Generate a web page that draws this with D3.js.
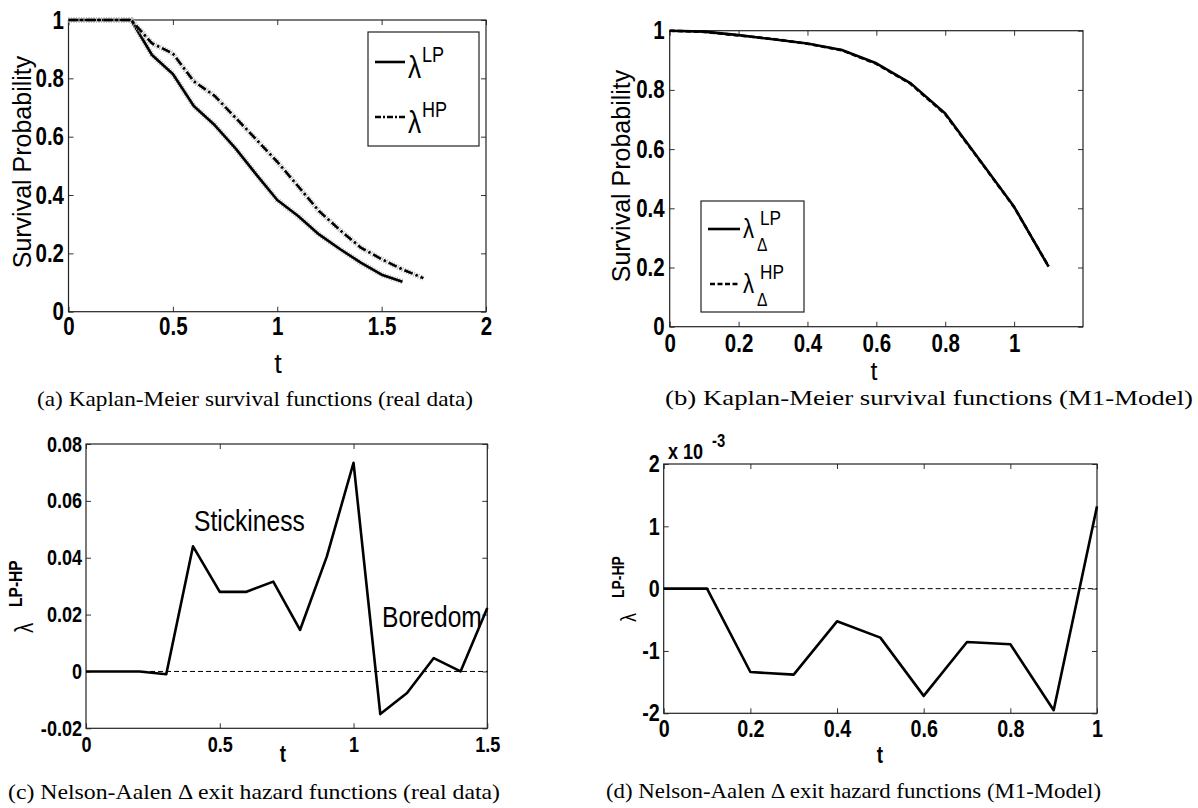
<!DOCTYPE html>
<html>
<head>
<meta charset="utf-8">
<script src="https://cdn.jsdelivr.net/npm/d3@7"></script>
<style>
body { margin: 0; background: #fff; }
.tick text { font-family: "Liberation Sans", Arial, sans-serif; font-weight: bold; fill: #000; }
.tick line { stroke: #333; }
.sans { font-family: "Liberation Sans", Arial, sans-serif; fill: #000; }
.cap { font-family: "Liberation Serif", "DejaVu Serif", serif; font-size: 21px; fill: #000; }
</style>
</head>
<body>
<svg id="fig" width="1198" height="808"></svg>
<script>
// (a) Kaplan-Meier, real data
const tA = [0, 0.1, 0.2, 0.3, 0.4, 0.5, 0.6, 0.7, 0.8, 0.9, 1.0, 1.1, 1.2, 1.3, 1.4, 1.5, 1.6];
const lpA = [1, 1, 1, 1, 0.88, 0.815, 0.705, 0.64, 0.56, 0.47, 0.383, 0.328, 0.265, 0.215, 0.168, 0.127, 0.103];
const tAhp = [0, 0.1, 0.2, 0.3, 0.4, 0.5, 0.6, 0.7, 0.8, 0.9, 1.0, 1.1, 1.2, 1.3, 1.4, 1.5, 1.6, 1.7];
const hpA = [1, 1, 1, 1, 0.92, 0.885, 0.79, 0.74, 0.665, 0.59, 0.514, 0.43, 0.345, 0.28, 0.22, 0.18, 0.145, 0.115];

// (b) Kaplan-Meier, M1 model
const tB = [0, 0.1, 0.2, 0.3, 0.4, 0.5, 0.6, 0.7, 0.8, 0.9, 1.0, 1.1];
const lpB = [1, 0.997, 0.985, 0.971, 0.957, 0.935, 0.89, 0.822, 0.72, 0.563, 0.405, 0.203];
const hpB = [1, 0.996, 0.984, 0.972, 0.956, 0.934, 0.888, 0.82, 0.718, 0.562, 0.404, 0.204];

// (c) Nelson-Aalen difference, real data
const tC = [0, 0.1, 0.2, 0.3, 0.4, 0.5, 0.6, 0.7, 0.8, 0.9, 1.0, 1.1, 1.2, 1.3, 1.4, 1.5];
const diffC = [0, 0, 0, -0.001, 0.044, 0.028, 0.028, 0.0316, 0.0146, 0.0404, 0.0734, -0.015, -0.0076, 0.0047, 0, 0.0223];

// (d) Nelson-Aalen difference, M1 model (x 10^-3)
const tD = [0, 0.1, 0.2, 0.3, 0.4, 0.5, 0.6, 0.7, 0.8, 0.9, 1.0];
const diffD = [0, 0, -1.337, -1.38, -0.524, -0.786, -1.72, -0.856, -0.893, -1.95, 1.32];

// ticks
const ticksAx = [0, 0.5, 1, 1.5, 2];
const ticksSurv = [0, 0.2, 0.4, 0.6, 0.8, 1];
const ticksBx = [0, 0.2, 0.4, 0.6, 0.8, 1];
const ticksCx = [0, 0.5, 1, 1.5];
const ticksCy = [-0.02, 0, 0.02, 0.04, 0.06, 0.08];
const ticksDx = [0, 0.2, 0.4, 0.6, 0.8, 1];
const ticksDy = [-2, -1, 0, 1, 2];

const svg = d3.select("#fig");
svg.append("rect").attr("width", 1198).attr("height", 808).attr("fill", "#fff");

const fmt = d => String(+d.toFixed(3));
const NARROW = 0.82;

function panel(p) {
  const g = svg.append("g");
  const x = d3.scaleLinear().domain(p.xd).range([p.l, p.r]);
  const y = d3.scaleLinear().domain(p.yd).range([p.b, p.t]);

  g.append("g").attr("transform", `translate(0,${p.b})`)
    .call(d3.axisBottom(x).tickValues(p.xt).tickSizeInner(-5).tickSizeOuter(0).tickPadding(p.xpad).tickFormat(fmt));
  g.append("g").attr("transform", `translate(0,${p.t})`)
    .call(d3.axisTop(x).tickValues(p.xt).tickSizeInner(-5).tickSizeOuter(0).tickFormat(""));
  g.append("g").attr("transform", `translate(${p.l},0)`)
    .call(d3.axisLeft(y).tickValues(p.yt).tickSizeInner(-5).tickSizeOuter(0).tickPadding(p.ypad).tickFormat(fmt));
  g.append("g").attr("transform", `translate(${p.r},0)`)
    .call(d3.axisRight(y).tickValues(p.yt).tickSizeInner(-5).tickSizeOuter(0).tickFormat(""));
  g.selectAll(".domain").remove();
  g.selectAll(".tick text").style("font-size", p.fs + "px").classed("narrow", true);

  g.append("rect")
    .attr("x", p.l).attr("y", p.t)
    .attr("width", p.r - p.l).attr("height", p.b - p.t)
    .attr("fill", "none").attr("stroke", "#222").attr("stroke-width", 1.2);
  return { g, x, y };
}

function curve(pp, ts, vs, dash, halo) {
  const line = d3.line().x((d, i) => pp.x(ts[i])).y(d => pp.y(d));
  if (halo) {
    pp.g.append("path").datum(vs).attr("d", line)
      .attr("fill", "none").attr("stroke", "#b8b8b8").attr("stroke-width", 5.5)
      .attr("stroke-dasharray", "1,1.5");
  }
  pp.g.append("path").datum(vs).attr("d", line)
    .attr("fill", "none").attr("stroke", "#000").attr("stroke-width", 2.6)
    .attr("stroke-linejoin", "round")
    .attr("stroke-dasharray", dash || null);
}

function zeroLine(pp) {
  const xd = pp.x.domain();
  pp.g.append("line")
    .attr("x1", pp.x(xd[0])).attr("x2", pp.x(xd[1]))
    .attr("y1", pp.y(0)).attr("y2", pp.y(0))
    .attr("stroke", "#000").attr("stroke-width", 1).attr("stroke-dasharray", "5,3");
}

function txt(x, y, s, size, opts) {
  opts = opts || {};
  const t = svg.append("text").attr("class", opts.cls || "sans narrow")
    .attr("x", x).attr("y", y).text(s)
    .style("font-size", size + "px");
  if (opts.bold) t.style("font-weight", "bold");
  if (opts.anchor) t.attr("text-anchor", opts.anchor);
  if (opts.rot) t.attr("transform", `rotate(-90,${x},${y})`);
  if (opts.len) t.attr("textLength", opts.len).attr("lengthAdjust", "spacingAndGlyphs");
  if (opts.wide) t.classed("narrow", false);
  return t;
}

// ---- (a)
const pa = panel({ l: 68.5, r: 486, t: 20, b: 311.7, xd: [0, 2], yd: [0, 1], xt: ticksAx, yt: ticksSurv, fs: 25, xpad: 6, ypad: 4.5 });
curve(pa, tA, lpA, null, true);
curve(pa, tAhp, hpA, "9,3,2.5,3", true);
txt(31, 162, "Survival Probability", 25, { rot: true, anchor: "middle", wide: true });
txt(278, 373, "t", 27, { anchor: "middle", wide: true });
svg.append("rect").attr("x", 368).attr("y", 32).attr("width", 111).attr("height", 114)
  .attr("fill", "#fff").attr("stroke", "#222").attr("stroke-width", 1.2);
svg.append("line").attr("x1", 375).attr("x2", 405).attr("y1", 62).attr("y2", 62).attr("stroke", "#000").attr("stroke-width", 2.6);
svg.append("line").attr("x1", 375).attr("x2", 405).attr("y1", 117).attr("y2", 117).attr("stroke", "#000").attr("stroke-width", 2.6).attr("stroke-dasharray", "6,2,2,2");
txt(408, 78, "λ", 32);
txt(422, 62, "LP", 22);
txt(408, 133, "λ", 32);
txt(422, 117, "HP", 22);
txt(37, 406, "(a) Kaplan-Meier survival functions (real data)", 21, { cls: "cap", len: 436 });

// ---- (b)
const pb = panel({ l: 669.7, r: 1083, t: 30.7, b: 326.7, xd: [0, 1.2], yd: [0, 1], xt: ticksBx, yt: ticksSurv, fs: 25, xpad: 8, ypad: 5 });
curve(pb, tB, lpB, null, false);
curve(pb, tB, hpB, "5,3", false);
txt(630, 176, "Survival Probability", 25, { rot: true, anchor: "middle", wide: true });
txt(874, 380, "t", 25, { anchor: "middle", wide: true });
svg.append("rect").attr("x", 701).attr("y", 201).attr("width", 103).attr("height", 111)
  .attr("fill", "#fff").attr("stroke", "#222").attr("stroke-width", 1.2);
svg.append("line").attr("x1", 708).attr("x2", 740).attr("y1", 229).attr("y2", 229).attr("stroke", "#000").attr("stroke-width", 2.6);
svg.append("line").attr("x1", 710).attr("x2", 740).attr("y1", 284).attr("y2", 284).attr("stroke", "#000").attr("stroke-width", 2.6).attr("stroke-dasharray", "5,2.5");
txt(743, 238, "λ", 27);
txt(760, 225, "LP", 21);
txt(757, 251, "Δ", 19);
txt(743, 293, "λ", 27);
txt(760, 279, "HP", 21);
txt(757, 306, "Δ", 19);
txt(665, 405, "(b) Kaplan-Meier survival functions (M1-Model)", 21, { cls: "cap", len: 528 });

// ---- (c)
const pc = panel({ l: 86, r: 487.3, t: 444, b: 728.3, xd: [0, 1.5], yd: [-0.02, 0.08], xt: ticksCx, yt: ticksCy, fs: 22, xpad: 8, ypad: 4 });
zeroLine(pc);
curve(pc, tC, diffC, null, false);
txt(194, 531, "Stickiness", 30);
txt(382, 627, "Boredom", 30);
txt(283, 762, "t", 23, { anchor: "middle", bold: true });
txt(33, 633, "λ", 25, { rot: true });
txt(22, 607, "LP-HP", 19, { rot: true, bold: true });
txt(8, 799, "(c) Nelson-Aalen Δ exit hazard functions (real data)", 21, { cls: "cap", len: 492 });

// ---- (d)
const pd = panel({ l: 663.7, r: 1097, t: 464, b: 713.3, xd: [0, 1], yd: [-2, 2], xt: ticksDx, yt: ticksDy, fs: 24, xpad: 7, ypad: 4 });
zeroLine(pd);
curve(pd, tD, diffD, null, false);
txt(668, 459, "x 10", 22, { bold: true });
txt(712, 447, "-3", 18, { bold: true });
txt(880, 763, "t", 23, { anchor: "middle", bold: true });
txt(636, 622, "λ", 22, { rot: true });
txt(624, 598, "LP-HP", 17, { rot: true, bold: true });
txt(606, 798, "(d) Nelson-Aalen Δ exit hazard functions (M1-Model)", 21, { cls: "cap", len: 495 });

// condensed look of the original figure fonts
svg.selectAll("text.narrow").each(function () {
  const w = this.getComputedTextLength();
  d3.select(this).attr("textLength", w * NARROW).attr("lengthAdjust", "spacingAndGlyphs");
});
</script>
</body>
</html>
